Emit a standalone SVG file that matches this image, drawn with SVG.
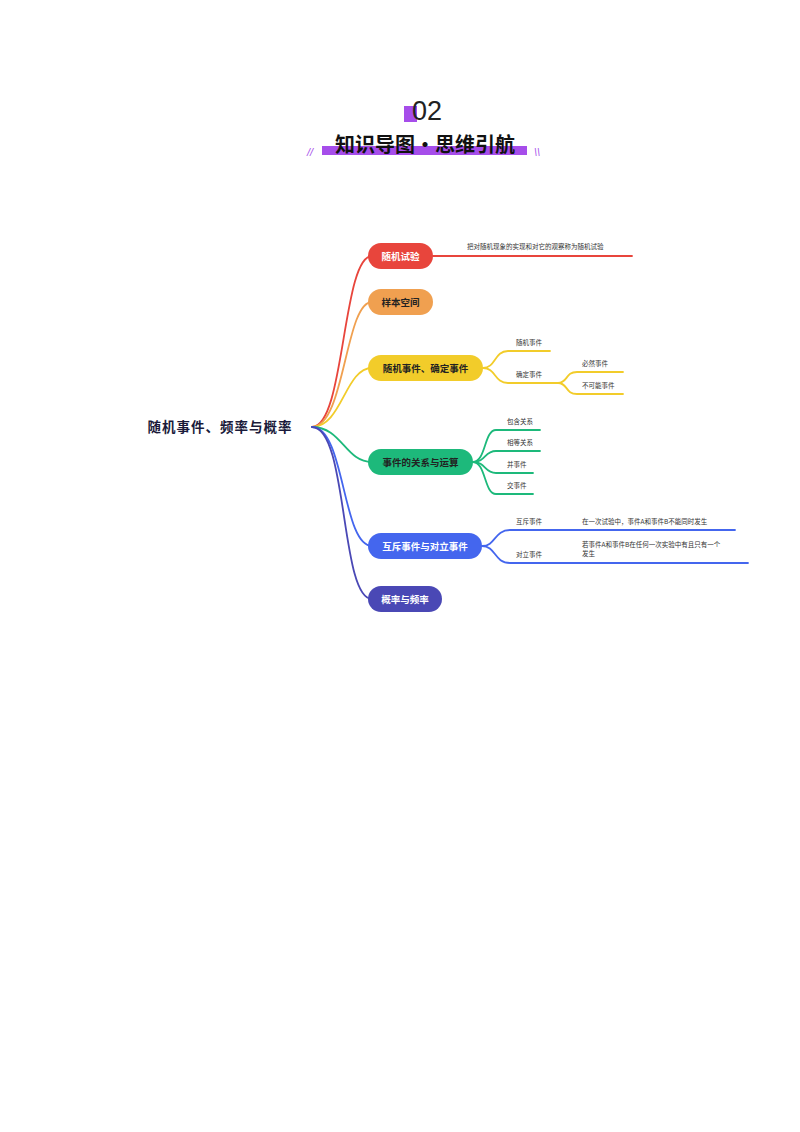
<svg xmlns="http://www.w3.org/2000/svg" width="800" height="1132" viewBox="0 0 800 1132">
<style>
text{font-family:"Noto Sans CJK SC","Noto Sans",sans-serif}
.t{font-size:8.5px;font-weight:bold}
.s{font-size:6.5px;fill:#333}
.c{fill:none;stroke-width:1.8;stroke-linecap:round}
.n{font-size:9.5px;font-weight:bold;text-anchor:middle}
</style>
<rect width="800" height="1132" fill="#fff"/>
<g id="header">
<rect x="404" y="106" width="13" height="16" fill="#a64dea"/>
<text x="427" y="120" font-size="27" text-anchor="middle" fill="#222" style="font-family:'Liberation Sans',sans-serif">02</text>
<rect x="322" y="146" width="205" height="9" fill="#a64dea"/>
<text x="425" y="152" font-size="20" font-weight="bold" text-anchor="middle" fill="#111">知识导图·思维引航</text>
<text x="307" y="156" font-size="11" fill="#a64dea" style="font-family:'Liberation Sans',sans-serif;font-style:italic">//</text>
<text x="534" y="156" font-size="11" fill="#a64dea" style="font-family:'Liberation Sans',sans-serif;font-style:italic">\\</text>
</g>
<g id="root">
<text x="220" y="432" font-size="13.5" font-weight="bold" text-anchor="middle" fill="#1a1a3a" letter-spacing="1">随机事件、频率与概率</text>
</g>
<g id="connectors">
<path class="c" stroke="#e8453c" d="M312,427 C345,427 342,256 372,256"/>
<path class="c" stroke="#f0a050" d="M312,427 C345,427 345,302 372,302"/>
<path class="c" stroke="#f2cc2a" d="M312,427 C342,427 345,368 372,368"/>
<path class="c" stroke="#1db97b" d="M312,427 C342,427 345,462 372,462"/>
<path class="c" stroke="#4466ee" d="M312,427 C345,427 342,546 372,546"/>
<path class="c" stroke="#4a48b5" d="M312,427 C348,427 340,599 372,599"/>
<path class="c" stroke="#e8453c" stroke-width="1.3" d="M433,256 L632,256"/>
<path class="c" stroke="#f2cc2a" stroke-width="1.3" d="M483,368 C496,368 494,351 508,351 L550,351"/>
<path class="c" stroke="#f2cc2a" stroke-width="1.3" d="M483,368 C496,368 494,383 508,383 L558,383"/>
<path class="c" stroke="#f2cc2a" stroke-width="1.3" d="M558,383 C568,383 565,372 577,372 L623,372"/>
<path class="c" stroke="#f2cc2a" stroke-width="1.3" d="M558,383 C568,383 565,394 577,394 L623,394"/>
<path class="c" stroke="#1db97b" stroke-width="1.3" d="M473,462 C486,462 484,430 496,430 L540,430"/>
<path class="c" stroke="#1db97b" stroke-width="1.3" d="M473,462 C486,462 484,451 496,451 L540,451"/>
<path class="c" stroke="#1db97b" stroke-width="1.3" d="M473,462 C486,462 484,473 496,473 L533,473"/>
<path class="c" stroke="#1db97b" stroke-width="1.3" d="M473,462 C486,462 484,494 496,494 L533,494"/>
<path class="c" stroke="#4466ee" stroke-width="1.3" d="M482,546 C496,546 494,530 510,530 L735,530"/>
<path class="c" stroke="#4466ee" stroke-width="1.3" d="M482,546 C496,546 494,563 510,563 L748,563"/>
</g>
<g id="n1"><rect x="368" y="243" width="65" height="26" rx="13" fill="#e8453c"/><text class="n" x="400.5" y="260" fill="#fff">随机试验</text></g>
<g id="n1a"><text class="s" x="467" y="249" fill="#5a1a1a">把对随机现象的实现和对它的观察称为随机试验</text></g>
<g id="n2"><rect x="368" y="289" width="65" height="26" rx="13" fill="#f0a050"/><text class="n" x="400.5" y="306" fill="#222">样本空间</text></g>
<g id="n3"><rect x="368" y="355" width="115" height="26" rx="13" fill="#f2cc2a"/><text class="n" x="425.5" y="372" fill="#222">随机事件、确定事件</text></g>
<g id="n3a"><text class="s" x="516" y="345">随机事件</text></g>
<g id="n3b"><text class="s" x="516" y="377">确定事件</text></g>
<g id="n3c"><text class="s" x="582" y="366">必然事件</text></g>
<g id="n3d"><text class="s" x="582" y="388">不可能事件</text></g>
<g id="n4"><rect x="368" y="449" width="105" height="26" rx="13" fill="#1db97b"/><text class="n" x="420.5" y="466" fill="#222">事件的关系与运算</text></g>
<g id="n4a"><text class="s" x="507" y="424">包含关系</text></g>
<g id="n4b"><text class="s" x="507" y="445">相等关系</text></g>
<g id="n4c"><text class="s" x="507" y="467">并事件</text></g>
<g id="n4d"><text class="s" x="507" y="488">交事件</text></g>
<g id="n5"><rect x="368" y="533" width="114" height="26" rx="13" fill="#4466ee"/><text class="n" x="425" y="550" fill="#fff">互斥事件与对立事件</text></g>
<g id="n5a"><text class="s" x="516" y="524">互斥事件</text><text class="s" x="582" y="524">在一次试验中，事件A和事件B不能同时发生</text></g>
<g id="n5b"><text class="s" x="516" y="557">对立事件</text><text class="s" x="582" y="547">若事件A和事件B在任何一次实验中有且只有一个</text><text class="s" x="582" y="556">发生</text></g>
<g id="n6"><rect x="368" y="586" width="74" height="26" rx="13" fill="#4a48b5"/><text class="n" x="405" y="603" fill="#fff">概率与频率</text></g>
</svg>
